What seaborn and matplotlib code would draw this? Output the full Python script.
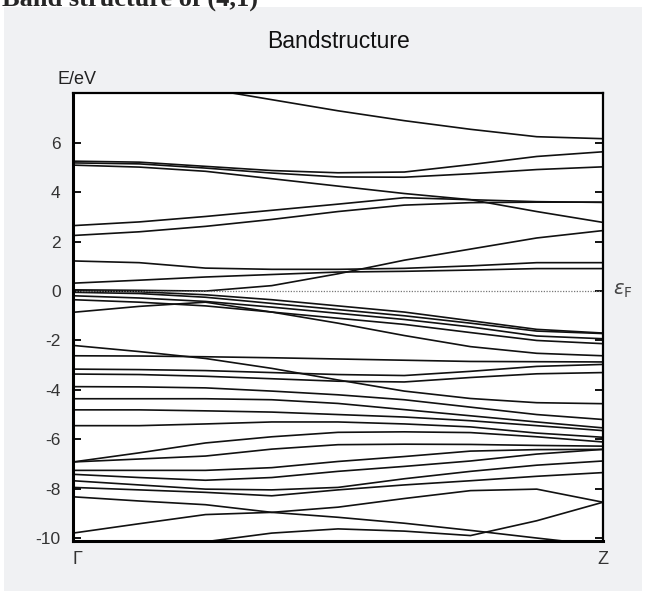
import pandas as pd
import matplotlib
matplotlib.use("Agg")
import matplotlib.pyplot as plt
import seaborn as sns
from matplotlib.patches import Rectangle

# k-path sampling (Gamma -> Z) and axis labels
k_points = [0, 0.125, 0.25, 0.375, 0.5, 0.625, 0.75, 0.875, 1.0]
k_labels = ["Γ", "Z"]
y_ticks = [-10, -8, -6, -4, -2, 0, 2, 4, 6]

# bands above the Fermi level (eV)
bands_upper = [
    [9.0, 8.6, 8.2, 7.75, 7.3, 6.9, 6.55, 6.25, 6.17],
    [5.26, 5.22, 5.05, 4.88, 4.79, 4.82, 5.12, 5.45, 5.64],
    [5.19, 5.15, 4.98, 4.78, 4.62, 4.61, 4.75, 4.92, 5.03],
    [5.10, 5.02, 4.85, 4.55, 4.25, 3.95, 3.7, 3.62, 3.59],
    [2.65, 2.8, 3.02, 3.27, 3.52, 3.78, 3.7, 3.22, 2.78],
    [2.25, 2.4, 2.62, 2.9, 3.22, 3.48, 3.58, 3.6, 3.6],
    [1.22, 1.15, 0.93, 0.88, 0.88, 0.92, 1.02, 1.15, 1.15],
    [0.32, 0.44, 0.57, 0.67, 0.77, 0.8, 0.85, 0.91, 0.91],
    [0.05, 0.03, 0.0, 0.22, 0.7, 1.25, 1.7, 2.15, 2.45],
]

# bands just below the Fermi level
bands_fermi = [
    [0.02, -0.03, -0.15, -0.35, -0.6, -0.85, -1.2, -1.55, -1.70],
    [-0.05, -0.1, -0.25, -0.5, -0.75, -1.0, -1.3, -1.62, -1.72],
    [-0.19, -0.28, -0.42, -0.65, -0.9, -1.15, -1.45, -1.82, -1.93],
    [-0.35, -0.45, -0.6, -0.85, -1.1, -1.35, -1.68, -2.0, -2.13],
    [-0.86, -0.62, -0.45, -0.85, -1.3, -1.8, -2.25, -2.52, -2.62],
]

# middle valence bands
bands_mid = [
    [-2.2, -2.45, -2.73, -3.13, -3.6, -4.05, -4.35, -4.52, -4.56],
    [-2.62, -2.63, -2.66, -2.7, -2.75, -2.8, -2.85, -2.86, -2.87],
    [-3.16, -3.18, -3.22, -3.3, -3.38, -3.42, -3.25, -3.05, -2.97],
    [-3.36, -3.38, -3.45, -3.55, -3.65, -3.68, -3.5, -3.35, -3.3],
    [-3.87, -3.88, -3.92, -4.05, -4.2, -4.4, -4.7, -5.0, -5.2],
    [-4.36, -4.36, -4.36, -4.4, -4.55, -4.8, -5.05, -5.3, -5.54],
    [-4.81, -4.81, -4.85, -4.9, -5.0, -5.1, -5.25, -5.45, -5.65],
    [-5.45, -5.45, -5.38, -5.3, -5.3, -5.38, -5.5, -5.75, -5.92],
]

# deep valence bands
bands_low = [
    [-6.92, -6.55, -6.15, -5.9, -5.72, -5.7, -5.73, -5.9, -6.11],
    [-6.92, -6.8, -6.68, -6.4, -6.22, -6.2, -6.21, -6.25, -6.28],
    [-7.26, -7.26, -7.26, -7.15, -6.9, -6.7, -6.48, -6.42, -6.41],
    [-7.42, -7.55, -7.66, -7.55, -7.3, -7.1, -6.88, -6.6, -6.41],
    [-7.68, -7.85, -8.02, -8.05, -7.95, -7.6, -7.3, -7.05, -6.88],
    [-7.95, -8.05, -8.15, -8.29, -8.05, -7.85, -7.68, -7.5, -7.35],
    [-8.33, -8.5, -8.65, -8.96, -9.16, -9.4, -9.69, -10.0, -10.3],
    [-9.8, -9.42, -9.05, -8.96, -8.75, -8.4, -8.08, -8.02, -8.55],
    [-10.6, -10.4, -10.15, -9.8, -9.63, -9.72, -9.9, -9.3, -8.55],
]

rows = []
band_id = 0
for group in [bands_upper, bands_fermi, bands_mid, bands_low]:
    for band in group:
        for k, e in zip(k_points, band):
            rows.append({"k": k, "E": e, "band": band_id})
        band_id += 1
df = pd.DataFrame(rows)

sns.set_theme(style="white")
plt.rcParams["font.family"] = ["Liberation Sans", "DejaVu Sans"]
plt.rcParams["mathtext.fontset"] = "dejavusans"

W, H = 646, 595
fig = plt.figure(figsize=(W / 100, H / 100), dpi=100, facecolor="white")
# grey panel behind the plot
fig.patches.append(Rectangle((4 / W, 1 - 591 / H), 638 / W, 584 / H,
                             transform=fig.transFigure, facecolor="#f0f1f3",
                             edgecolor="none", zorder=-1))

ax = fig.add_axes([73 / W, 1 - 541 / H, 530 / W, 448 / H])
ax.set_facecolor("white")

sns.lineplot(data=df, x="k", y="E", units="band", estimator=None, sort=False,
             color="#111111", lw=1.2, legend=False, ax=ax)
ax.axhline(0, color="#777777", lw=0.9, ls=(0, (1, 1.2)))

ax.set_xlim(0, 1)
ax.set_ylim(-10.12, 8.02)
ax.set_yticks(y_ticks)
ax.set_yticklabels([str(t) for t in y_ticks])
ax.set_xticks([0, 1])
ax.set_xticklabels(k_labels)
ax.get_xticklabels()[0].set_ha("left")
ax.set_xlabel("")
ax.set_ylabel("")
ax.tick_params(axis="y", direction="in", length=6, width=1.3, left=True, right=True,
               pad=9, labelsize=12.5, colors="black", labelcolor="#333333")
ax.tick_params(axis="x", length=0, pad=7, labelsize=13, labelcolor="#333333")
for side in ["top", "right"]:
    ax.spines[side].set_color("black")
    ax.spines[side].set_linewidth(1.6)
for side in ["left", "bottom"]:
    ax.spines[side].set_color("black")
    ax.spines[side].set_linewidth(2.2)

ax.text(1 + 10 / 530, 0, r"$\varepsilon_{\mathrm{F}}$", transform=ax.get_yaxis_transform(),
        ha="left", va="center", fontsize=14, color="#444444")

fig.text(338 / W, 1 - 41 / H, "Bandstructure", ha="center", va="center", fontsize=16.5, color="#111111")
fig.text(57 / W, 1 - 80 / H, "E/eV", ha="left", va="center", fontsize=13, color="#222222")
fig.text(2 / W, 1 - 6 / H, "Band structure of (4,1)", ha="left", va="baseline",
         fontsize=19, fontweight="bold", family="Liberation Serif")

fig.savefig("out.png", dpi=100, facecolor="white")
